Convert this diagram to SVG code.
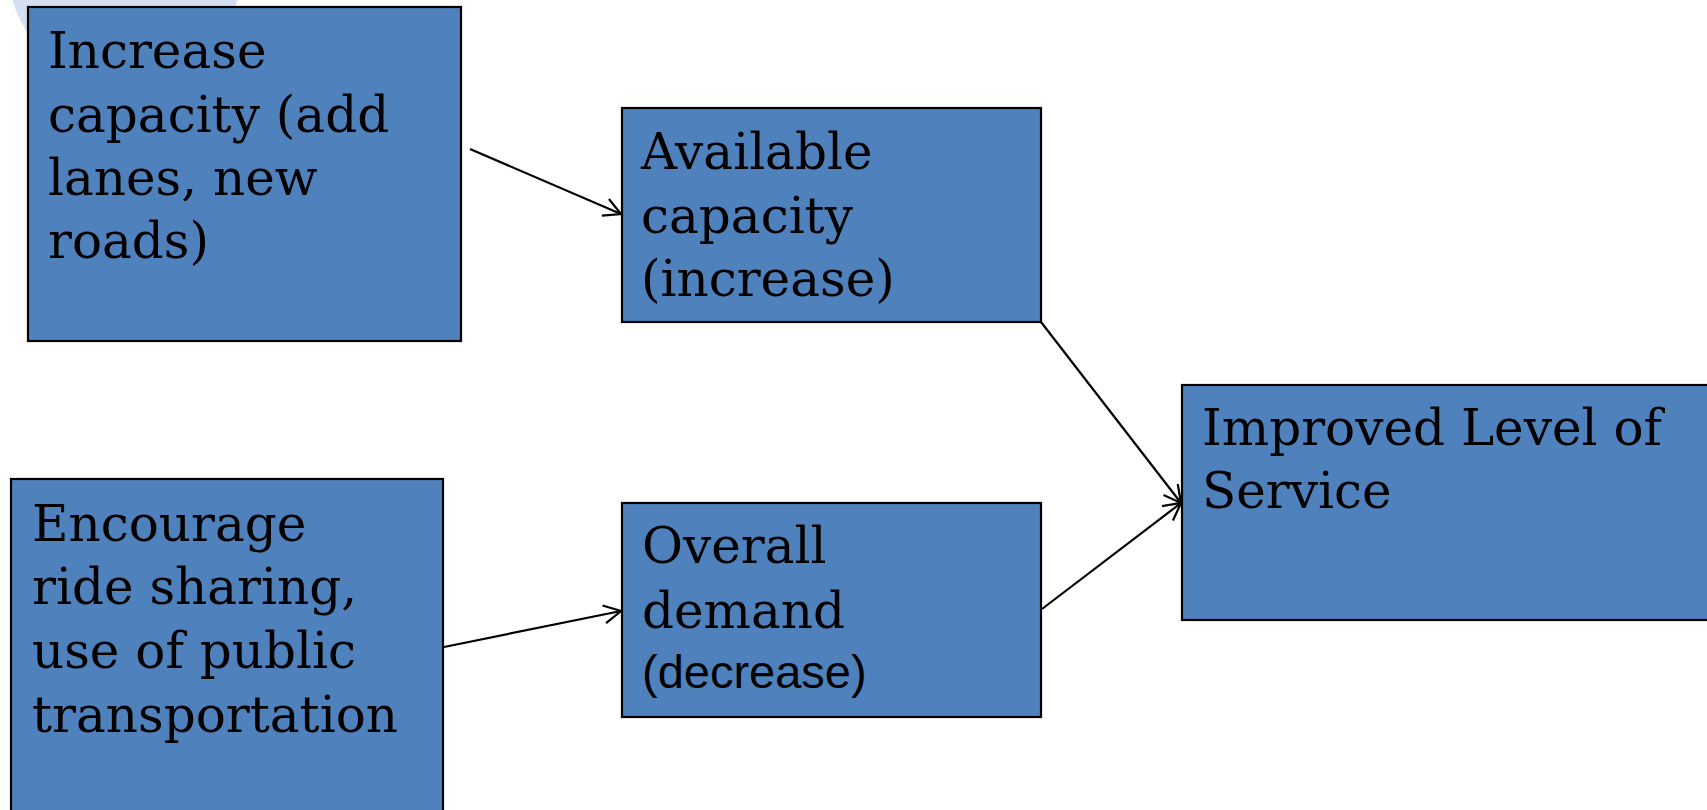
<svg xmlns="http://www.w3.org/2000/svg" width="1707" height="810" viewBox="0 0 1707 810">
  <style>
    .box { fill: #4f81bd; stroke: #000; stroke-width: 2.2; }
    .lbl { font-family: "DejaVu Serif", "Liberation Serif", serif; font-size: 50px; fill: #000; }
    .sans { font-family: "Liberation Sans", Arial, sans-serif; font-size: 47px; fill: #000; }
    .link { fill: none; stroke: #000; stroke-width: 2.2; marker-end: url(#arrow); }
  </style>
  <defs>
    <marker id="arrow" viewBox="0 0 22 22" refX="20" refY="11" markerWidth="22" markerHeight="22" markerUnits="userSpaceOnUse" orient="auto">
      <path d="M3,2 L20,11 L3,20" fill="none" stroke="#000" stroke-width="2.2"/>
    </marker>
  </defs>
  <rect width="1707" height="810" fill="#fff"/>
  <!-- faint decorative disc behind the first box -->
  <circle cx="125" cy="-32" r="117" fill="#d3e0f1"/>

  <g id="increase-capacity">
    <rect class="box" x="28" y="7" width="433" height="334"/>
    <text class="lbl" x="48" y="68">Increase</text>
    <text class="lbl" x="48" y="132">capacity (add</text>
    <text class="lbl" x="48" y="195">lanes, new</text>
    <text class="lbl" x="48" y="258">roads)</text>
  </g>

  <g id="available-capacity">
    <rect class="box" x="622" y="108" width="419" height="214"/>
    <text class="lbl" x="641" y="169">Available</text>
    <text class="lbl" x="641" y="233">capacity</text>
    <text class="lbl" x="641" y="296">(increase)</text>
  </g>

  <g id="encourage-sharing">
    <rect class="box" x="11" y="479" width="432" height="345"/>
    <text class="lbl" x="32" y="541">Encourage</text>
    <text class="lbl" x="32" y="604">ride sharing,</text>
    <text class="lbl" x="32" y="668">use of public</text>
    <text class="lbl" x="32" y="732">transportation</text>
  </g>

  <g id="overall-demand">
    <rect class="box" x="622" y="503" width="419" height="214"/>
    <text class="lbl" x="642" y="563">Overall</text>
    <text class="lbl" x="642" y="628">demand</text>
    <text class="sans" x="642" y="688">(decrease)</text>
  </g>

  <g id="level-of-service">
    <rect class="box" x="1182" y="385" width="540" height="235"/>
    <text class="lbl" x="1202" y="445">Improved Level of</text>
    <text class="lbl" x="1202" y="508">Service</text>
  </g>

  <g id="connectors">
    <line class="link" x1="470" y1="149" x2="621" y2="214"/>
    <line class="link" x1="1041" y1="322" x2="1181" y2="503"/>
    <line class="link" x1="1042" y1="609" x2="1181" y2="503"/>
    <line class="link" x1="444" y1="647" x2="621" y2="611"/>
  </g>
</svg>
